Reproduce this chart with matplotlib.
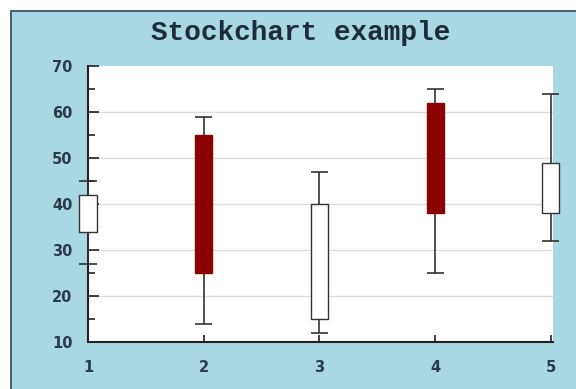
import matplotlib
matplotlib.use("Agg")
import matplotlib.pyplot as plt
from matplotlib.patches import Rectangle
from matplotlib.ticker import MultipleLocator

# data: open, close, low, high
x_pos = [1, 2, 3, 4, 5]
opens = [34, 55, 15, 62, 38]
closes = [42, 25, 40, 38, 49]
lows = [27, 14, 12, 25, 32]
highs = [45, 59, 47, 65, 64]
x_ticks = [1, 2, 3, 4, 5]
y_ticks = [10, 20, 30, 40, 50, 60, 70]

fig = plt.figure(figsize=(5.76, 3.89), dpi=100)
fig.patch.set_facecolor("white")
# blue frame
fig.patches.append(Rectangle((11/576, -0.01), 1.01 - 11/576, 1.01 - 11/389, transform=fig.transFigure,
                             facecolor="#aad7e4", edgecolor="#2c4a5a", linewidth=1.2, zorder=-10))

ax = fig.add_axes([88/576, 47/389, 465/576, 276/389])
ax.set_zorder(1)
ax.set_facecolor("white")
ax.set_xlim(1, 5.02)
ax.set_ylim(10, 70)

for y in [20, 30, 40, 50, 60]:
    ax.axhline(y, color="#dcdcdc", linewidth=1.0, zorder=1)

w = 0.147
for x, o, c, lo, hi in zip(x_pos, opens, closes, lows, highs):
    ax.vlines(x, lo, hi, color="#333333", linewidth=1.2, zorder=4, clip_on=False)
    ax.hlines([lo, hi], x - w/2, x + w/2, color="#333333", linewidth=1.2, zorder=4, clip_on=False)
    face = "white" if c > o else "#8b0000"
    ax.bar(x, abs(c - o), bottom=min(o, c), width=w, color=face,
           edgecolor="#333333" if c > o else "#8b0000", linewidth=1.0, zorder=5, clip_on=False)

for s in ["top", "right"]:
    ax.spines[s].set_visible(False)
for s in ["left", "bottom"]:
    ax.spines[s].set_linewidth(1.5)
    ax.spines[s].set_color("#222222")

ax.set_xticks(x_ticks)
ax.set_yticks(y_ticks)
ax.yaxis.set_minor_locator(MultipleLocator(5))
ax.tick_params(axis="both", which="major", direction="in", length=8, width=1.2,
               color="#222222", labelsize=10.5, labelcolor="#2a3a4a", pad=11)
ax.tick_params(axis="y", which="minor", direction="in", length=5, width=1.2, color="#222222")
ax.tick_params(axis="x", which="major", length=5, pad=13)
for lab in ax.get_xticklabels() + ax.get_yticklabels():
    lab.set_fontweight("bold")
    lab.set_fontfamily("DejaVu Sans")

fig.text(301/576, 1 - 33/389, "Stockchart example", ha="center", va="center",
         fontsize=20, fontfamily="Liberation Mono", fontweight="bold", color="#1c2c3c")

fig.savefig("out.png", dpi=100)
